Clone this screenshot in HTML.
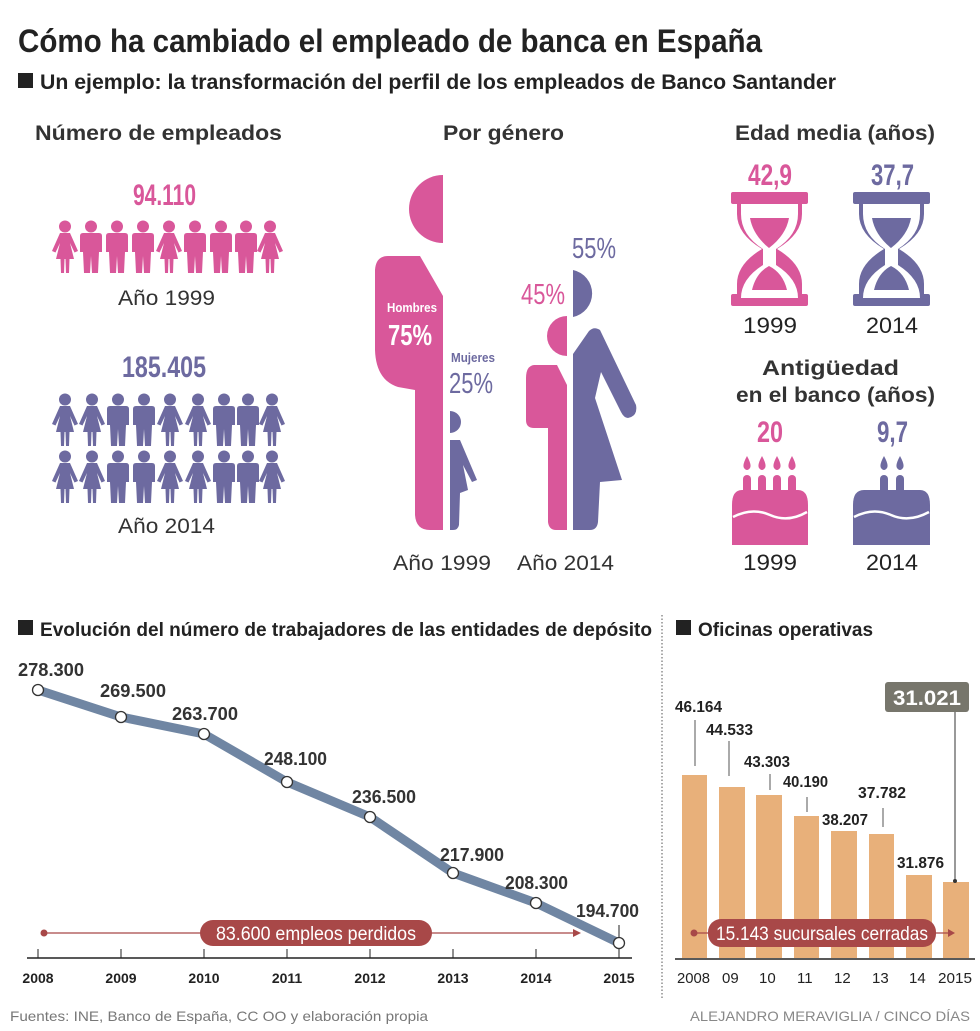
<!DOCTYPE html>
<html><head><meta charset="utf-8"><style>
html,body{margin:0;padding:0;background:#fff}
svg{display:block}
text{font-family:"Liberation Sans",sans-serif}
</style></head><body>
<svg width="980" height="1031" viewBox="0 0 980 1031" xmlns="http://www.w3.org/2000/svg">
<defs>
<g id="man">
<circle cx="12" cy="6.5" r="6"/>
<path d="M1,16 Q1,13 4,13 L20,13 Q23,13 23,16 L23,32 L20,32 L19,53 L13,53 L12,36 L11,53 L5,53 L4,32 L1,32 Z"/>
</g>
<g id="woman">
<circle cx="12" cy="6.5" r="6"/>
<path d="M7,13 L17,13 L25,31 L21.5,32.5 L17,23 L21,39 L16.5,39 L16,53 L13,53 L12.5,39 L11.5,39 L11,53 L8,53 L7.5,39 L3,39 L7,23 L2.5,32.5 L-1,31 Z"/>
</g>
<g id="hg">
<rect x="0" y="0" width="77" height="12" rx="2"/>
<rect x="0" y="102" width="77" height="12" rx="2"/>
<path d="M6,12 L71,12 L71,22 Q71,42 46,57 Q71,72 71,92 L71,102 L6,102 L6,92 Q6,72 31,57 Q6,42 6,22 Z"/>
</g>
</defs>

<text x="18" y="52" font-size="32" font-weight="bold" fill="#222" textLength="744" lengthAdjust="spacingAndGlyphs">Cómo ha cambiado el empleado de banca en España</text>
<rect x="18" y="73" width="15" height="15" fill="#222"/>
<text x="40" y="89" font-size="21" font-weight="bold" fill="#222" textLength="796" lengthAdjust="spacingAndGlyphs">Un ejemplo: la transformación del perfil de los empleados de Banco Santander</text>

<text x="35" y="140" font-size="21" font-weight="bold" fill="#333" textLength="247" lengthAdjust="spacingAndGlyphs">Número de empleados</text>
<text x="443" y="140" font-size="21" font-weight="bold" fill="#333" textLength="121" lengthAdjust="spacingAndGlyphs">Por género</text>
<text x="735" y="140" font-size="21" font-weight="bold" fill="#333" textLength="200" lengthAdjust="spacingAndGlyphs">Edad media (años)</text>

<text x="133" y="205" font-size="30" font-weight="bold" fill="#d9579a" textLength="63" lengthAdjust="spacingAndGlyphs">94.110</text>
<g fill="#d9579a">
<use href="#woman" x="53" y="220"/><use href="#man" x="79" y="220"/><use href="#man" x="105" y="220"/><use href="#man" x="131" y="220"/><use href="#woman" x="157" y="220"/><use href="#man" x="183" y="220"/><use href="#man" x="209" y="220"/><use href="#man" x="234" y="220"/><use href="#woman" x="258" y="220"/>
</g>
<text x="118" y="305" font-size="21" fill="#333" textLength="97" lengthAdjust="spacingAndGlyphs">Año 1999</text>
<text x="122" y="377" font-size="30" font-weight="bold" fill="#6d6aa0" textLength="84" lengthAdjust="spacingAndGlyphs">185.405</text>
<g fill="#6d6aa0">
<use href="#woman" x="53" y="393"/><use href="#woman" x="80" y="393"/><use href="#man" x="106" y="393"/><use href="#man" x="132" y="393"/><use href="#woman" x="158" y="393"/><use href="#woman" x="186" y="393"/><use href="#man" x="212" y="393"/><use href="#man" x="236" y="393"/><use href="#woman" x="260" y="393"/>
<use href="#woman" x="53" y="450"/><use href="#woman" x="80" y="450"/><use href="#man" x="106" y="450"/><use href="#man" x="132" y="450"/><use href="#woman" x="158" y="450"/><use href="#woman" x="186" y="450"/><use href="#man" x="212" y="450"/><use href="#man" x="236" y="450"/><use href="#woman" x="260" y="450"/>
</g>
<text x="118" y="533" font-size="21" fill="#333" textLength="97" lengthAdjust="spacingAndGlyphs">Año 2014</text>

<path d="M443,175 A34,34 0 0 0 443,243 Z" fill="#d9579a"/>
<path d="M443,296 L420,256 L388,256 Q376,256 375,270 L375,350 Q376,380 398,387 L415,390 L415,515 Q416,530 430,530 L443,530 Z" fill="#d9579a"/>
<text x="387" y="312" font-size="13" font-weight="bold" fill="#fff" textLength="50" lengthAdjust="spacingAndGlyphs">Hombres</text>
<text x="388" y="345" font-size="29" font-weight="bold" fill="#fff" textLength="44" lengthAdjust="spacingAndGlyphs">75%</text>
<text x="451" y="362" font-size="13" font-weight="bold" fill="#6d6aa0" textLength="44" lengthAdjust="spacingAndGlyphs">Mujeres</text>
<text x="449" y="393" font-size="29" fill="#6d6aa0" textLength="44" lengthAdjust="spacingAndGlyphs">25%</text>
<path d="M450,411 A11,11 0 0 1 450,433 Z" fill="#6d6aa0"/>
<path d="M450,440 L460,440 L477,480 L472,482 L463,465 L468,490 L460,493 L459,525 Q458,530 453,530 L450,530 Z" fill="#6d6aa0"/>

<text x="521" y="304" font-size="29" fill="#d9579a" textLength="44" lengthAdjust="spacingAndGlyphs">45%</text>
<text x="572" y="258" font-size="29" fill="#6d6aa0" textLength="44" lengthAdjust="spacingAndGlyphs">55%</text>
<path d="M567,316 A20,20 0 0 0 567,356 Z" fill="#d9579a"/>
<path d="M567,385 L557,365 L534,365 Q526,366 526,378 L526,420 Q526,428 534,428 L548,428 L548,522 Q549,530 556,530 L567,530 Z" fill="#d9579a"/>
<path d="M573,270 A24,24 0 0 1 573,317 Z" fill="#6d6aa0"/>
<path d="M573,354 L589,331 Q594,326 600,330 L636,405 Q638,416 628,418 Q624,418 621,412 L601,372 L595,398 L622,480 L600,482 L598,522 Q597,530 590,530 L573,530 Z" fill="#6d6aa0"/>
<text x="393" y="570" font-size="21" fill="#333" textLength="98" lengthAdjust="spacingAndGlyphs">Año 1999</text>
<text x="517" y="570" font-size="21" fill="#333" textLength="97" lengthAdjust="spacingAndGlyphs">Año 2014</text>

<text x="748" y="185" font-size="30" font-weight="bold" fill="#d9579a" textLength="44" lengthAdjust="spacingAndGlyphs">42,9</text>
<text x="871" y="185" font-size="30" font-weight="bold" fill="#6d6aa0" textLength="43" lengthAdjust="spacingAndGlyphs">37,7</text>
<g fill="#d9579a"><use href="#hg" x="731" y="192"/></g>
<g fill="#6d6aa0"><use href="#hg" x="853" y="192"/></g>
<g fill="#fff">
<path d="M741,204 L798,204 L798,214 Q798,235 776,249 L776,265 Q798,279 798,298 L741,298 Q741,279 763,265 L763,249 Q741,235 741,214 Z"/>
<path d="M863,204 L920,204 L920,214 Q920,235 898,249 L898,265 Q920,279 920,298 L863,298 Q863,279 885,265 L885,249 Q863,235 863,214 Z"/>
</g>
<path d="M750,218 L789,218 Q786,235 769,248 Q753,235 750,218 Z" fill="#d9579a"/>
<path d="M752,290 Q756,273 769,266 Q783,273 787,290 Z" fill="#d9579a"/>
<path d="M872,218 L911,218 Q908,235 891,248 Q875,235 872,218 Z" fill="#6d6aa0"/>
<path d="M874,290 Q878,273 891,266 Q905,273 909,290 Z" fill="#6d6aa0"/>
<text x="743" y="333" font-size="22" fill="#222" textLength="54" lengthAdjust="spacingAndGlyphs">1999</text>
<text x="866" y="333" font-size="22" fill="#222" textLength="52" lengthAdjust="spacingAndGlyphs">2014</text>
<text x="762" y="375" font-size="21" font-weight="bold" fill="#333" textLength="137" lengthAdjust="spacingAndGlyphs">Antigüedad</text>
<text x="736" y="402" font-size="21" font-weight="bold" fill="#333" textLength="199" lengthAdjust="spacingAndGlyphs">en el banco (años)</text>

<text x="757" y="442" font-size="30" font-weight="bold" fill="#d9579a" textLength="26" lengthAdjust="spacingAndGlyphs">20</text>
<text x="877" y="442" font-size="30" font-weight="bold" fill="#6d6aa0" textLength="31" lengthAdjust="spacingAndGlyphs">9,7</text>
<g fill="#d9579a">
<path d="M747,456 Q742,465 744,468 Q747,472 750,468 Q752,465 747,456 Z M762,456 Q757,465 759,468 Q762,472 765,468 Q767,465 762,456 Z M777,456 Q772,465 774,468 Q777,472 780,468 Q782,465 777,456 Z M792,456 Q787,465 789,468 Q792,472 795,468 Q797,465 792,456 Z"/>
<rect x="743" y="475" width="8" height="20" rx="4"/><rect x="758" y="475" width="8" height="20" rx="4"/><rect x="773" y="475" width="8" height="20" rx="4"/><rect x="788" y="475" width="8" height="20" rx="4"/>
<path d="M742,490 L798,490 Q808,490 808,505 L808,545 L732,545 L732,505 Q732,490 742,490 Z"/>
</g>
<g fill="#6d6aa0">
<path d="M884,456 Q879,465 881,468 Q884,472 887,468 Q889,465 884,456 Z M900,456 Q895,465 897,468 Q900,472 903,468 Q905,465 900,456 Z"/>
<rect x="880" y="475" width="8" height="20" rx="4"/><rect x="896" y="475" width="8" height="20" rx="4"/>
<path d="M864,490 L920,490 Q930,490 930,505 L930,545 L853,545 L853,505 Q853,490 864,490 Z"/>
</g>
<path d="M733,517 Q752,507 770,515 Q788,523 807,512" stroke="#fff" stroke-width="2.5" fill="none"/>
<path d="M854,517 Q873,507 891,515 Q909,523 929,512" stroke="#fff" stroke-width="2.5" fill="none"/>
<text x="743" y="570" font-size="22" fill="#222" textLength="54" lengthAdjust="spacingAndGlyphs">1999</text>
<text x="866" y="570" font-size="22" fill="#222" textLength="52" lengthAdjust="spacingAndGlyphs">2014</text>

<rect x="18" y="620" width="15" height="15" fill="#222"/>
<text x="40" y="636" font-size="19" font-weight="bold" fill="#222" textLength="612" lengthAdjust="spacingAndGlyphs">Evolución del número de trabajadores de las entidades de depósito</text>
<line x1="662" y1="615" x2="662" y2="1000" stroke="#555" stroke-width="1" stroke-dasharray="1.5,2"/>
<rect x="676" y="620" width="15" height="15" fill="#222"/>
<text x="698" y="636" font-size="19" font-weight="bold" fill="#222" textLength="175" lengthAdjust="spacingAndGlyphs">Oficinas operativas</text>

<line x1="27" y1="958" x2="632" y2="958" stroke="#222" stroke-width="1.5"/>
<g stroke="#222" stroke-width="1">
<line x1="38" y1="949" x2="38" y2="958"/><line x1="121" y1="949" x2="121" y2="958"/><line x1="204" y1="949" x2="204" y2="958"/><line x1="287" y1="949" x2="287" y2="958"/><line x1="370" y1="949" x2="370" y2="958"/><line x1="453" y1="949" x2="453" y2="958"/><line x1="536" y1="949" x2="536" y2="958"/><line x1="619" y1="925" x2="619" y2="958"/>
</g>
<g font-size="14" font-weight="bold" fill="#222" text-anchor="middle">
<text x="38" y="983">2008</text><text x="121" y="983">2009</text><text x="204" y="983">2010</text><text x="287" y="983">2011</text><text x="370" y="983">2012</text><text x="453" y="983">2013</text><text x="536" y="983">2014</text><text x="619" y="983">2015</text>
</g>
<line x1="44" y1="933" x2="575" y2="933" stroke="#a84848" stroke-width="1.2"/>
<circle cx="44" cy="933" r="3.5" fill="#a84848"/>
<path d="M573,929 L581,933 L573,937 Z" fill="#a84848"/>
<polyline points="38,690 121,717 204,734 287,782 370,817 453,873 536,903 619,943" fill="none" stroke="#7086a3" stroke-width="9" stroke-linejoin="round"/>
<g fill="#fff" stroke="#333" stroke-width="1.3">
<circle cx="38" cy="690" r="5.5"/><circle cx="121" cy="717" r="5.5"/><circle cx="204" cy="734" r="5.5"/><circle cx="287" cy="782" r="5.5"/><circle cx="370" cy="817" r="5.5"/><circle cx="453" cy="873" r="5.5"/><circle cx="536" cy="903" r="5.5"/><circle cx="619" cy="943" r="5.5"/>
</g>
<rect x="200" y="920" width="232" height="26" rx="13" fill="#a84848"/>
<text x="316" y="940" font-size="19" fill="#fff" text-anchor="middle" textLength="200" lengthAdjust="spacingAndGlyphs">83.600 empleos perdidos</text>
<g font-size="18" font-weight="bold" fill="#333">
<text x="18" y="676" textLength="66" lengthAdjust="spacingAndGlyphs">278.300</text>
<text x="100" y="697" textLength="66" lengthAdjust="spacingAndGlyphs">269.500</text>
<text x="172" y="720" textLength="66" lengthAdjust="spacingAndGlyphs">263.700</text>
<text x="264" y="765" textLength="63" lengthAdjust="spacingAndGlyphs">248.100</text>
<text x="352" y="803" textLength="64" lengthAdjust="spacingAndGlyphs">236.500</text>
<text x="440" y="861" textLength="64" lengthAdjust="spacingAndGlyphs">217.900</text>
<text x="505" y="889" textLength="63" lengthAdjust="spacingAndGlyphs">208.300</text>
<text x="576" y="917" textLength="63" lengthAdjust="spacingAndGlyphs">194.700</text>
</g>

<g fill="#e8b07a">
<rect x="682" y="775" width="25" height="183"/><rect x="719" y="787" width="26" height="171"/><rect x="756" y="795" width="26" height="163"/><rect x="794" y="816" width="25" height="142"/><rect x="831" y="831" width="26" height="127"/><rect x="869" y="834" width="25" height="124"/><rect x="906" y="875" width="26" height="83"/><rect x="943" y="882" width="26" height="76"/>
</g>
<line x1="675" y1="959" x2="975" y2="959" stroke="#222" stroke-width="1.5"/>
<g stroke="#555" stroke-width="1">
<line x1="695" y1="720" x2="695" y2="766"/><line x1="729" y1="741" x2="729" y2="776"/><line x1="770" y1="774" x2="770" y2="790"/><line x1="807" y1="797" x2="807" y2="812"/><line x1="883" y1="808" x2="883" y2="827"/>
</g>
<g font-size="16" font-weight="bold" fill="#222">
<text x="675" y="712" textLength="47" lengthAdjust="spacingAndGlyphs">46.164</text>
<text x="706" y="735" textLength="47" lengthAdjust="spacingAndGlyphs">44.533</text>
<text x="744" y="767" textLength="46" lengthAdjust="spacingAndGlyphs">43.303</text>
<text x="783" y="787" textLength="45" lengthAdjust="spacingAndGlyphs">40.190</text>
<text x="822" y="825" textLength="46" lengthAdjust="spacingAndGlyphs">38.207</text>
<text x="858" y="798" textLength="48" lengthAdjust="spacingAndGlyphs">37.782</text>
<text x="897" y="868" textLength="47" lengthAdjust="spacingAndGlyphs">31.876</text>
</g>
<rect x="885" y="682" width="84" height="30" rx="3" fill="#77766c"/>
<text x="927" y="705" font-size="21" font-weight="bold" fill="#fff" text-anchor="middle" textLength="68" lengthAdjust="spacingAndGlyphs">31.021</text>
<line x1="955" y1="712" x2="955" y2="881" stroke="#333" stroke-width="1"/>
<circle cx="955" cy="881" r="2" fill="#333"/>
<line x1="694" y1="933" x2="950" y2="933" stroke="#a84848" stroke-width="1.2"/>
<circle cx="694" cy="933" r="3.5" fill="#a84848"/>
<path d="M948,929 L955,933 L948,937 Z" fill="#a84848"/>
<rect x="708" y="919" width="228" height="28" rx="13" fill="#a84848"/>
<text x="822" y="940" font-size="19" fill="#fff" text-anchor="middle" textLength="212" lengthAdjust="spacingAndGlyphs">15.143 sucursales cerradas</text>
<g font-size="15" fill="#222">
<text x="677" y="983" textLength="33" lengthAdjust="spacingAndGlyphs">2008</text>
<text x="722" y="983">09</text><text x="759" y="983">10</text><text x="797" y="983">11</text><text x="834" y="983">12</text><text x="872" y="983">13</text><text x="909" y="983">14</text>
<text x="938" y="983" textLength="34" lengthAdjust="spacingAndGlyphs">2015</text>
</g>

<text x="10" y="1021" font-size="14" fill="#777" textLength="418" lengthAdjust="spacingAndGlyphs">Fuentes: INE, Banco de España, CC OO y elaboración propia</text>
<text x="690" y="1021" font-size="14" fill="#888" textLength="280" lengthAdjust="spacingAndGlyphs">ALEJANDRO MERAVIGLIA / CINCO DÍAS</text>
</svg>
</body></html>
